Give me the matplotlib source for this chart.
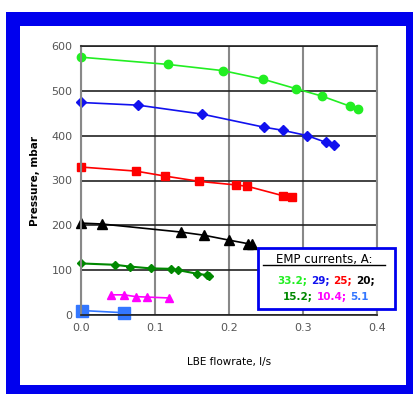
import matplotlib
matplotlib.use("Agg")
import matplotlib.pyplot as plt
from matplotlib.patches import Rectangle

# EMP current series
q_332 = [0.0, 0.117, 0.192, 0.246, 0.290, 0.326, 0.363, 0.374]
p_332 = [575, 559, 545, 526, 505, 488, 466, 460]

q_29 = [0.0, 0.0775, 0.164, 0.247, 0.2725, 0.306, 0.331, 0.342]
p_29 = [474, 468, 448, 419, 412, 400, 385, 379]

q_25 = [0.0, 0.074, 0.113, 0.160, 0.210, 0.225, 0.273, 0.285]
p_25 = [330, 321, 310, 298, 290, 287, 266, 263]

q_20 = [0.0, 0.028, 0.135, 0.166, 0.200, 0.226, 0.231]
p_20 = [205, 203, 185, 178, 167, 159, 159]

q_152 = [0.0, 0.046, 0.066, 0.094, 0.121, 0.1315, 0.157, 0.170, 0.173]
p_152 = [115, 112, 108, 104, 103, 100, 92, 89, 87]

q_104 = [0.041, 0.058, 0.074, 0.089, 0.119]
p_104 = [45, 45, 41, 40, 38]

q_51 = [0.001, 0.0585]
p_51 = [10, 5]

xticks = [0.0, 0.1, 0.2, 0.3, 0.4]
yticks = [0, 100, 200, 300, 400, 500, 600]

fig = plt.figure(figsize=(4.14, 3.94), dpi=100)
fig.patch.set_facecolor("white")

# blue frame around the chart
fig.patches.append(Rectangle((6/414, 0), 408/414, 382/394, transform=fig.transFigure,
                             facecolor="#0000ee", edgecolor="none", zorder=-10))
fig.patches.append(Rectangle((20/414, 9/394), 386/414, 359/394, transform=fig.transFigure,
                             facecolor="white", edgecolor="none", zorder=-9))

ax = fig.add_axes([81/414, 79/394, 296/414, 269/394])
ax.set_facecolor("none")

ax.plot(q_332, p_332, color="#22ee22", marker="o", ms=6, lw=1.2, clip_on=False)
ax.plot(q_29, p_29, color="#1111ee", marker="D", ms=5, lw=1.2, clip_on=False)
ax.plot(q_25, p_25, color="#ff0000", marker="s", ms=6, lw=1.2, clip_on=False)
ax.plot(q_20, p_20, color="black", marker="^", ms=6.5, lw=1.2, clip_on=False)
ax.plot(q_152, p_152, color="#008800", marker="D", ms=4.5, lw=1.5, clip_on=False)
ax.plot(q_104, p_104, color="#ff00ff", marker="^", ms=6, lw=1.2, clip_on=False)
ax.plot(q_51, p_51, color="#3377ff", marker="s", ms=8, lw=1.2, clip_on=False)

ax.set_xlim(0, 0.4)
ax.set_ylim(0, 600)
ax.set_xticks(xticks)
ax.set_yticks(yticks)
ax.set_xticklabels(["%.1f" % v for v in xticks])
ax.tick_params(length=0, labelsize=8, labelcolor="#555555", pad=6)
ax.xaxis.grid(True, color="#888888", lw=1.5)
ax.yaxis.grid(True, color="#222222", lw=1.2)
ax.set_axisbelow(True)
for s in ["top", "bottom"]:
    ax.spines[s].set_color("#222222")
    ax.spines[s].set_linewidth(1.2)
for s in ["left", "right"]:
    ax.spines[s].set_color("#888888")
    ax.spines[s].set_linewidth(1.5)

ax.set_xlabel("LBE flowrate, l/s", fontsize=7.5, labelpad=17)
ax.set_ylabel("Pressure, mbar", fontsize=7.5, fontweight="bold", labelpad=8)

# legend box with coloured current values
fig.patches.append(Rectangle((258/414, (394-309)/394), 137/414, 61/394, transform=fig.transFigure,
                             facecolor="white", edgecolor="#0000ee", lw=2, zorder=5))
fig.text(324/414, (394-259)/394, "EMP currents, A:", fontsize=8.5, ha="center", va="center",
         zorder=6)
fig.add_artist(plt.Line2D([263/414, 385/414], [(394-265)/394] * 2, color="black", lw=1,
                          transform=fig.transFigure, zorder=6))

rows = [
    [("33.2;", "#22ee22"), ("29;", "#1111ee"), ("25;", "#ff0000"), ("20;", "black")],
    [("15.2;", "#008800"), ("10.4;", "#ff00ff"), ("5.1", "#3377ff")],
]
row_y = [281.5, 297]
fig.canvas.draw()
r = fig.canvas.get_renderer()
for row, yy in zip(rows, row_y):
    texts = []
    for s, c in row:
        t = fig.text(0, (394-yy)/394, s, fontsize=7.5, fontweight="bold", color=c,
                     va="center", zorder=6)
        texts.append(t)
    widths = [t.get_window_extent(r).width for t in texts]
    gap = 4
    total = sum(widths) + gap * (len(widths) - 1)
    x = 326 - total / 2
    for t, w in zip(texts, widths):
        t.set_x(x / 414)
        x += w + gap

fig.savefig("out.png", dpi=100)
